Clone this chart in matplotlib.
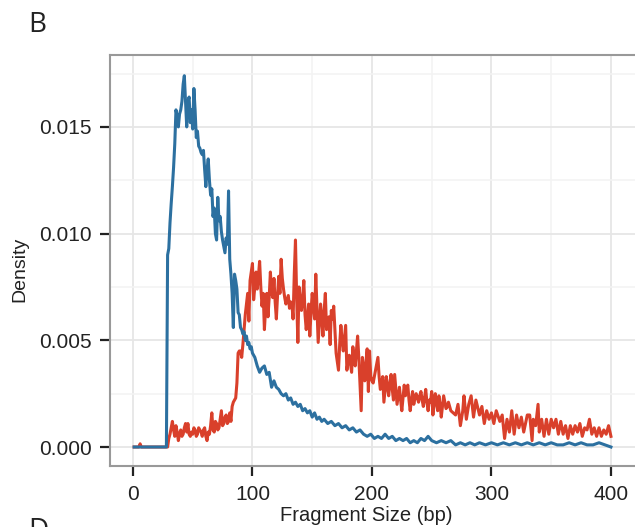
import matplotlib
matplotlib.use("Agg")
import matplotlib.pyplot as plt
from matplotlib.ticker import MultipleLocator
import numpy as np

# ---------------- data ----------------
blue_x = [1, 10, 20, 28] + list(range(29, 101)) + [
    102, 104, 106, 108, 110, 112, 114, 116, 118, 120, 122, 124, 126, 128, 130,
    132, 134, 136, 138, 140, 142, 144, 146, 148, 150, 152, 154, 156, 158, 160,
    163, 166, 169, 172, 175, 178, 181, 184, 187, 190, 193, 196, 199, 202, 205,
    208, 211, 214, 217, 220, 223, 226, 229, 232, 235, 238, 241, 244, 247, 250,
    254, 258, 262, 266, 270, 274, 278, 282, 286, 290, 295, 300, 305, 310, 315,
    320, 325, 330, 335, 340, 345, 350, 355, 360, 365, 370, 375, 380, 385, 390,
    395, 400]
blue_y = [0.0000, 0.0000, 0.0000, 0.0000,
    0.0090, 0.0093, 0.0105, 0.0114, 0.0122, 0.0131, 0.0142, 0.0158, 0.0155, 0.0150,
    0.0156, 0.0158, 0.0162, 0.0170, 0.0174, 0.0162, 0.0150, 0.0162, 0.0164, 0.0152,
    0.0158, 0.0149, 0.0168, 0.0158, 0.0145, 0.0148, 0.0141, 0.0140, 0.0138, 0.0137,
    0.0139, 0.0130, 0.0122, 0.0130, 0.0135, 0.0125, 0.0118, 0.0121, 0.0108, 0.0112,
    0.0100, 0.0097, 0.0117, 0.0106, 0.0108, 0.0101, 0.0097, 0.0094, 0.0091, 0.0098,
    0.0095, 0.0120, 0.0088, 0.0081, 0.0072, 0.0056, 0.0081, 0.0078, 0.0074, 0.0063,
    0.0062, 0.0056, 0.0055, 0.0053, 0.0054, 0.0050, 0.0052, 0.0048, 0.0049, 0.0046,
    0.0047, 0.0044,
    0.0042, 0.0038, 0.0035, 0.0037, 0.0038, 0.0034, 0.0035, 0.0028, 0.0031, 0.0028,
    0.0027, 0.0025, 0.0024, 0.0025, 0.0022, 0.0023, 0.0020, 0.0021, 0.0019, 0.0020,
    0.0017, 0.0018, 0.0016, 0.0017, 0.0014, 0.0016, 0.0013, 0.0014, 0.0012, 0.0013,
    0.0011, 0.0012, 0.0010, 0.0011, 0.0009, 0.0010, 0.0008, 0.0009, 0.0007, 0.0008,
    0.0006, 0.0005, 0.0006, 0.0004, 0.0005, 0.0004, 0.0006, 0.0004, 0.0005, 0.0003,
    0.0004, 0.0003, 0.0004, 0.0002, 0.0003, 0.0002, 0.0004, 0.0003, 0.0005, 0.0003,
    0.0002, 0.0003, 0.0002, 0.0003, 0.0001, 0.0002, 0.0001, 0.0002, 0.0001, 0.0002,
    0.0001, 0.0002, 0.0001, 0.0002, 0.0001, 0.0002, 0.0001, 0.0002, 0.0001, 0.0002,
    0.0001, 0.0002, 0.0001, 0.0001, 0.0002, 0.0001, 0.0002, 0.0001, 0.0001, 0.0002,
    0.0001, 0.0000]

red_x = [1, 5, 6, 7, 29] + list(range(30, 267)) + [
    268, 270, 272, 274, 276, 277, 279, 281, 283, 285, 287, 290, 292, 294, 296,
    298, 300, 302, 304, 307, 309, 311, 313, 315, 317, 319, 321, 323, 325, 327,
    330, 332, 334, 335, 337, 339, 340, 342, 344, 346, 348, 350, 352, 354, 356,
    358, 360, 362, 364, 366, 368, 370, 372, 374, 376, 378, 380, 382, 384, 386,
    388, 390, 392, 394, 396, 398, 400]
red_y = [0.0000, 0.0000, 0.00015, 0.0000, 0.0000,
    0.0004, 0.0006, 0.0009, 0.0012, 0.0008, 0.0005, 0.0010, 0.0007, 0.0003, 0.0006,
    0.0008, 0.0005, 0.0006, 0.0009, 0.0011, 0.0007, 0.0011, 0.0006, 0.0005, 0.0007,
    0.0006, 0.0009, 0.0008, 0.0005, 0.0006, 0.0009, 0.0008, 0.0007, 0.0005, 0.0008,
    0.0009, 0.0005, 0.0003, 0.0007, 0.0006, 0.0010, 0.0016, 0.0008, 0.0007, 0.0012,
    0.0011, 0.0008, 0.0009, 0.0013, 0.0017, 0.0010, 0.0011, 0.0014, 0.0015, 0.0011,
    0.0012, 0.0016, 0.0012, 0.0019, 0.0021, 0.0022, 0.0023, 0.0030, 0.0044, 0.0045,
    0.0045, 0.0042, 0.0048, 0.0055, 0.0062, 0.0067, 0.0072, 0.0059, 0.0078, 0.0082,
    0.0086, 0.0069, 0.0075, 0.0082, 0.0074, 0.0080, 0.0087, 0.0075, 0.0066, 0.0072,
    0.0055, 0.0065, 0.0072, 0.0061, 0.0070, 0.0082, 0.0073, 0.0070, 0.0079, 0.0068,
    0.0060, 0.0071, 0.0080, 0.0072, 0.0088, 0.0079, 0.0074, 0.0070, 0.0067, 0.0069,
    0.0071, 0.0065, 0.0068, 0.0067, 0.0060, 0.0081, 0.0097, 0.0070, 0.0049, 0.0075,
    0.0069, 0.0064, 0.0070, 0.0078, 0.0062, 0.0055, 0.0061, 0.0067, 0.0052, 0.0063,
    0.0072, 0.0066, 0.0060, 0.0081, 0.0065, 0.0049, 0.0058, 0.0067, 0.0060, 0.0052,
    0.0064, 0.0072, 0.0055, 0.0058, 0.0061, 0.0048, 0.0064, 0.0060, 0.0066, 0.0055,
    0.0044, 0.0040, 0.0036, 0.0048, 0.0057, 0.0050, 0.0045, 0.0051, 0.0057, 0.0036,
    0.0040, 0.0043, 0.0039, 0.0035, 0.0047, 0.0042, 0.0038, 0.0045, 0.0052, 0.0042,
    0.0030, 0.0017, 0.0042, 0.0036, 0.0031, 0.0040, 0.0046, 0.0026, 0.0045, 0.0033,
    0.0031, 0.0030, 0.0033, 0.0036, 0.0039, 0.0042, 0.0033, 0.0027, 0.0030, 0.0033,
    0.0021, 0.0027, 0.0033, 0.0028, 0.0024, 0.0030, 0.0034, 0.0027, 0.0022, 0.0034,
    0.0027, 0.0020, 0.0024, 0.0028, 0.0022, 0.0017, 0.0023, 0.0029, 0.0024, 0.0027,
    0.0029, 0.0022, 0.0017, 0.0022, 0.0026, 0.0020, 0.0023, 0.0025, 0.0023, 0.0021,
    0.0024, 0.0026, 0.0022, 0.0019, 0.0023, 0.0027, 0.0021, 0.0017, 0.0022, 0.0021,
    0.0026, 0.0015, 0.0021, 0.0025, 0.0020, 0.0017, 0.0024, 0.0020, 0.0014, 0.0019,
    0.0024, 0.0021, 0.0018, 0.0019, 0.0021, 0.0019, 0.0017,
    0.0016, 0.0015, 0.0020, 0.0010, 0.0017, 0.0024, 0.0013, 0.0020, 0.0024, 0.0014,
    0.0022, 0.0015, 0.0019, 0.0011, 0.0017, 0.0013, 0.0016, 0.0011, 0.0017, 0.0012,
    0.0015, 0.0004, 0.0013, 0.0007, 0.0017, 0.0006, 0.0015, 0.0009, 0.0014, 0.0007,
    0.0015, 0.0015, 0.0003, 0.0013, 0.0010, 0.0020, 0.0007, 0.0013, 0.0005, 0.0013,
    0.0006, 0.0013, 0.0009, 0.0013, 0.0006, 0.0012, 0.0006, 0.0010, 0.0004, 0.0010,
    0.0006, 0.0010, 0.0007, 0.0011, 0.0005, 0.0009, 0.0008, 0.0013, 0.0006, 0.0009,
    0.0005, 0.0009, 0.0005, 0.0008, 0.0006, 0.0010, 0.0005]

x_ticks = [0, 100, 200, 300, 400]
y_ticks = [0.000, 0.005, 0.010, 0.015]
y_tick_labels = ["0.000", "0.005", "0.010", "0.015"]
x_label = "Fragment Size (bp)"
y_label = "Density"
panel_label = "B"
next_panel_label = "D"

blue_color = "#2c70a0"
red_color = "#d9402b"

# ---------------- figure ----------------
plt.rcParams["font.family"] = ["Liberation Sans", "DejaVu Sans"]

W, H = 635, 527
fig = plt.figure(figsize=(W / 100, H / 100), dpi=100)
ax = fig.add_axes([110 / W, (H - 466) / H, (648 - 110) / W, (466 - 55) / H])

ax.plot(red_x, red_y, color=red_color, lw=2.2, solid_joinstyle="round", zorder=3)
ax.plot(blue_x, blue_y, color=blue_color, lw=2.2, solid_joinstyle="round", zorder=4)

ax.set_xlim(-19.2, 431)
ax.set_ylim(-0.00089, 0.01837)

ax.set_xticks(x_ticks)
ax.set_xticklabels([str(v) for v in x_ticks])
ax.set_yticks(y_ticks)
ax.set_yticklabels(y_tick_labels)
ax.xaxis.set_minor_locator(MultipleLocator(50))
ax.yaxis.set_minor_locator(MultipleLocator(0.0025))

ax.grid(which="major", color="#e6e6e6", lw=1.3, zorder=0)
ax.grid(which="minor", color="#f3f3f3", lw=1.1, zorder=0)
ax.set_axisbelow(True)

ax.tick_params(which="major", direction="out", length=7, width=1.6, color="#222222",
               labelsize=15, labelcolor="#222222", pad=6)
ax.tick_params(axis="x", pad=7)
ax.tick_params(which="minor", length=0)
ax.tick_params(top=False, right=False)

for sp in ax.spines.values():
    sp.set_color("#999999")
    sp.set_linewidth(1.5)

fig.text(366 / W, (H - 521) / H, x_label, ha="center", va="baseline",
         fontsize=14.5, color="#222222")
fig.text(20 / W, (H - 269) / H, y_label, ha="center", va="center", rotation=90,
         fontsize=14, color="#222222")

fig.text(28 / W, (H - 32) / H, panel_label, ha="left", va="baseline",
         fontsize=20, family=["Open Sans", "DejaVu Sans"], color="#222222")
fig.text(28 / W, (H - 538) / H, next_panel_label, ha="left", va="baseline",
         fontsize=20, family=["Open Sans", "DejaVu Sans"], color="#222222")

fig.savefig("out.png", dpi=100)
